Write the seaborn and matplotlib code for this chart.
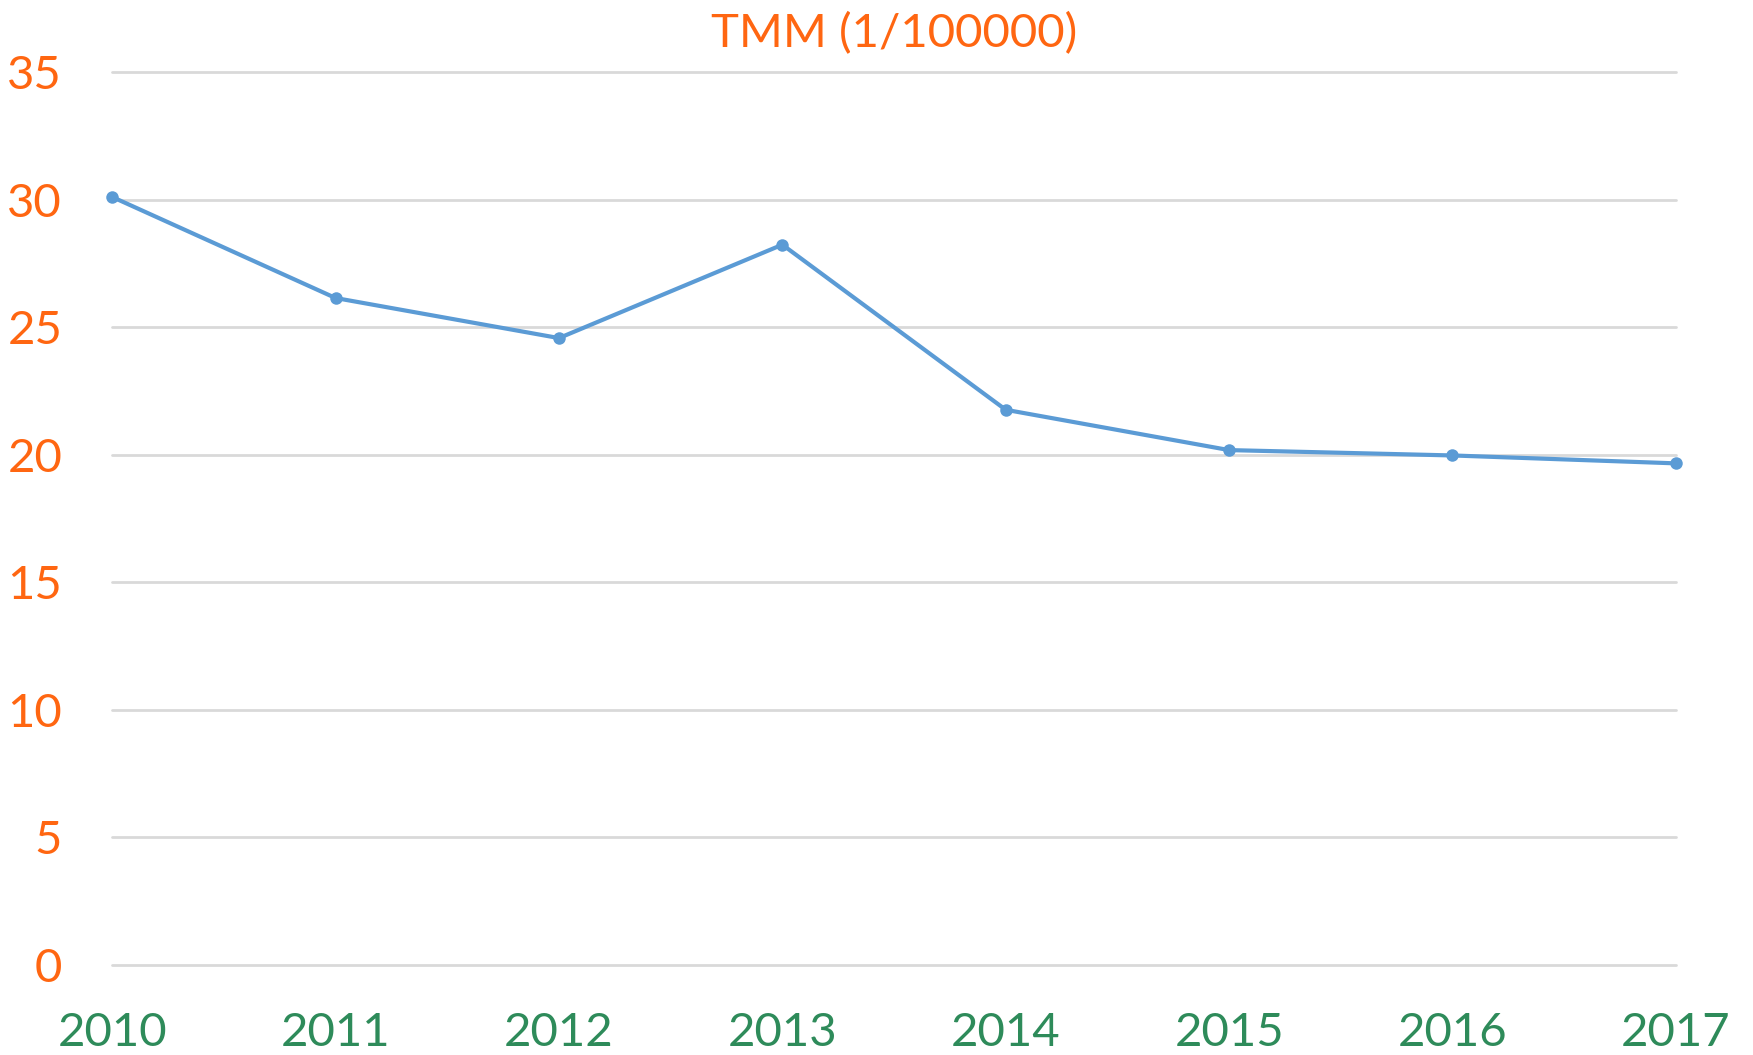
import matplotlib
matplotlib.use('Agg')
import pandas as pd
import numpy as np
import matplotlib.pyplot as plt
import seaborn as sns

years = [2010, 2011, 2012, 2013, 2014, 2015, 2016, 2017]
tmm = [30.1, 26.14, 24.57, 28.23, 21.76, 20.18, 19.97, 19.66]
y_ticks = [0, 5, 10, 15, 20, 25, 30, 35]

sns.set_style('white')
plt.rcParams['font.family'] = ['Lato', 'DejaVu Sans']

orange = '#FF6611'
green = '#2E8B5A'
blue = '#5B9BD5'

df = pd.DataFrame({'year': years, 'tmm': tmm})

fig = plt.figure(figsize=(17.53, 10.55), dpi=100)
ax = fig.add_axes([0.064, 0.0853, 0.892, 0.8465])
sns.lineplot(data=df, x='year', y='tmm', color=blue, linewidth=3.0,
             marker='o', markersize=9, markeredgewidth=0, ax=ax,
             zorder=3, clip_on=False)

ax.set_xlim(2010, 2017)
ax.set_ylim(0, 35)
ax.set_yticks(y_ticks)
ax.set_xticks(years)
ax.set_xticklabels([str(y) for y in years])
ax.grid(True, axis='y', color='#D9D9D9', linewidth=2, zorder=0)
ax.grid(False, axis='x')
for gl in ax.get_ygridlines():
    gl.set_clip_on(False)
for s in ax.spines.values():
    s.set_visible(False)
ax.tick_params(axis='y', labelsize=34, labelcolor=orange, length=0, pad=36)
ax.tick_params(axis='x', labelsize=34, labelcolor=green, length=0, pad=34)
ax.set_xlabel('')
ax.set_ylabel('')
ax.set_title('TMM (1/100000)', color=orange, fontsize=34, pad=18)

fig.savefig('out.png', dpi=100)
